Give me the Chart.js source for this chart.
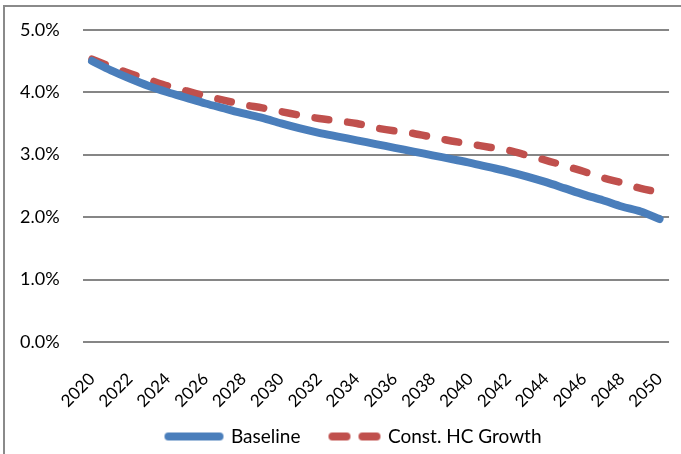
<!DOCTYPE html>
<html>
<head>
<meta charset="utf-8">
<script src="https://cdn.jsdelivr.net/npm/chart.js@4.4.1/dist/chart.umd.min.js"></script>
<style>
  html, body { margin: 0; background: #fff; overflow: hidden; }
  #frame {
    position: absolute; left: 3px; top: 5px; width: 700px; height: 470px;
    border-left: 2px solid #8a8a8a; border-top: 2px solid #8a8a8a;
  }
  #wrap { position: absolute; left: 0; top: -4px; width: 693px; height: 458px; }
</style>
</head>
<body>
<div id="frame"></div>
<div id="wrap"><canvas id="chart" width="693" height="458"></canvas></div>
<script>
const years = [];
for (let y = 2020; y <= 2050; y++) years.push(String(y));

const baseline = [4.50, 4.35, 4.22, 4.10, 4.00, 3.91, 3.82, 3.74, 3.66, 3.59,
                  3.50, 3.42, 3.35, 3.29, 3.23, 3.17, 3.11, 3.05, 2.99, 2.93,
                  2.87, 2.80, 2.73, 2.65, 2.56, 2.46, 2.36, 2.27, 2.17, 2.09, 1.97];

const constHC = [4.53, 4.41, 4.30, 4.20, 4.10, 4.02, 3.94, 3.87, 3.80, 3.75,
                 3.69, 3.63, 3.58, 3.54, 3.50, 3.43, 3.38, 3.34, 3.28, 3.22,
                 3.17, 3.12, 3.07, 2.99, 2.91, 2.82, 2.73, 2.63, 2.55, 2.46, 2.40];

const blue = '#4a7ebb';
const red = '#c0504d';
const font = "Lato, 'Open Sans', sans-serif";

// legend swatches: a solid bar and two dashes
function legendSample(color, dashed) {
    const c = document.createElement('canvas');
    c.width = 70; c.height = 12;
    const g = c.getContext('2d');
    g.strokeStyle = color;
    g.lineWidth = 8;
    g.lineCap = 'round';
    g.beginPath();
    if (dashed) {
        g.moveTo(20, 6); g.lineTo(34, 6);
        g.moveTo(50, 6); g.lineTo(64, 6);
    } else {
        g.moveTo(13, 6); g.lineTo(64, 6);
    }
    g.stroke();
    return c;
}

const blueSample = legendSample(blue, false);
const redSample = legendSample(red, true);

// nudge the legend a bit down like the original
const legendNudge = {
    id: 'legendNudge',
    afterLayout(chart) {
        const lg = chart.legend;
        lg.left += 1; lg.right += 1;
        lg.top += 2; lg.bottom += 2;
    }
};

new Chart(document.getElementById('chart'), {
    type: 'line',
    data: {
        labels: years,
        datasets: [{
            label: 'Baseline',
            data: baseline,
            borderColor: blue,
            backgroundColor: blue,
            borderWidth: 8,
            pointRadius: 0,
            tension: 0.3,
            borderCapStyle: 'round',
            pointStyle: blueSample
        }, {
            label: 'Const. HC Growth',
            data: constHC,
            borderColor: red,
            backgroundColor: red,
            borderWidth: 7.5,
            borderDash: [14, 19],
            borderCapStyle: 'round',
            pointRadius: 0,
            tension: 0.3,
            pointStyle: redSample
        }]
    },
    plugins: [legendNudge],
    options: {
        responsive: false,
        animation: false,
        layout: { padding: { left: -3, right: -9, top: 8, bottom: 0 } },
        scales: {
            x: {
                offset: true,
                grid: { display: false },
                border: { display: false },
                afterFit: s => { s.height = 67; },
                ticks: {
                    autoSkip: false,
                    maxRotation: 45,
                    minRotation: 45,
                    padding: 19,
                    color: '#000',
                    font: { family: font, size: 17 },
                    callback: function(v, i) { return i % 2 === 0 ? years[i] : ''; }
                }
            },
            y: {
                min: 0,
                max: 5,
                ticks: {
                    stepSize: 1,
                    color: '#000',
                    padding: 23,
                    font: { family: font, size: 18 },
                    callback: v => v.toFixed(1) + '%'
                },
                grid: { color: '#868686', lineWidth: 2, drawTicks: false },
                border: { display: false }
            }
        },
        plugins: {
            legend: {
                position: 'bottom',
                labels: {
                    usePointStyle: true,
                    pointStyleWidth: 62,
                    color: '#000',
                    padding: 16,
                    font: { family: font, size: 19 }
                }
            },
            tooltip: { enabled: false }
        }
    }
});
</script>
</body>
</html>
